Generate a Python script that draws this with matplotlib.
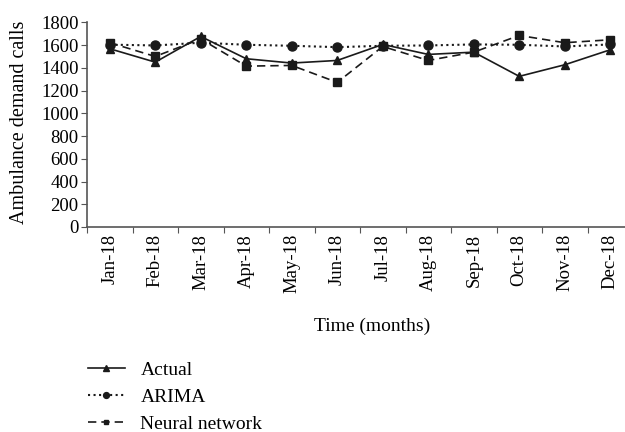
import numpy as np
import matplotlib
matplotlib.use("Agg")
import matplotlib.pyplot as plt

# --- data ---
months = ["Jan-18", "Feb-18", "Mar-18", "Apr-18", "May-18", "Jun-18",
          "Jul-18", "Aug-18", "Sep-18", "Oct-18", "Nov-18", "Dec-18"]
actual = [1569, 1451, 1677, 1481, 1443, 1466, 1607, 1519, 1539, 1326, 1428, 1560]
arima = [1605, 1598, 1622, 1604, 1595, 1583, 1595, 1598, 1607, 1604, 1589, 1607]
neural = [1622, 1501, 1655, 1416, 1422, 1273, 1589, 1466, 1539, 1686, 1622, 1648]

plt.rcParams['font.family'] = ['Liberation Serif', 'DejaVu Serif']
plt.rcParams['font.size'] = 13.5
ink = '#1a1a1a'

fig = plt.figure(figsize=(6.25, 4.32), dpi=100)
ax = fig.add_axes([87/625, 1 - 227/432, 546/625, (227 - 22.5)/432])

x = np.arange(len(months))
ax.plot(x, actual, '-', color=ink, lw=1.2, marker='^', ms=6, label='Actual')
ax.plot(x, arima, ':', color=ink, lw=1.5, marker='o', ms=6.5, label='ARIMA')
ax.plot(x, neural, '--', color=ink, lw=1.2, marker='s', ms=5.5, dashes=(5, 3),
        label='Neural network')

ax.set_xlim(-0.5, len(months) - 0.5)
ax.set_ylim(0, 1800)
ax.set_yticks(np.arange(0, 1801, 200))

# Excel-style: tick marks at category boundaries, labels at centres
ax.set_xticks(np.arange(-0.5, len(months), 1.0))
ax.set_xticklabels([])
ax.set_xticks(x, minor=True)
ax.set_xticklabels(months, minor=True, rotation=90)
ax.tick_params(axis='x', which='minor', length=0, pad=5)
ax.tick_params(axis='x', which='major', length=4, color='#555555')
ax.tick_params(axis='y', length=4, color='#555555', pad=2)

for side in ['top', 'right']:
    ax.spines[side].set_visible(False)
for side in ['left', 'bottom']:
    ax.spines[side].set_color('#555555')
    ax.spines[side].set_linewidth(1.2)

fig.text(372/625, 1 - 326/432, 'Time (months)', ha='center', va='center', fontsize=14)
fig.text(20/625, 1 - 122/432, 'Ambulance demand calls', ha='center', va='center',
         rotation=90, fontsize=14.5)

fig.legend(loc='upper left', bbox_to_anchor=(88/625, 1 - 361/432), frameon=False,
           borderpad=0, borderaxespad=0, handlelength=1.9, handletextpad=0.8,
           labelspacing=0.5, fontsize=14, markerscale=0.65)

fig.savefig('out.png', dpi=100)
